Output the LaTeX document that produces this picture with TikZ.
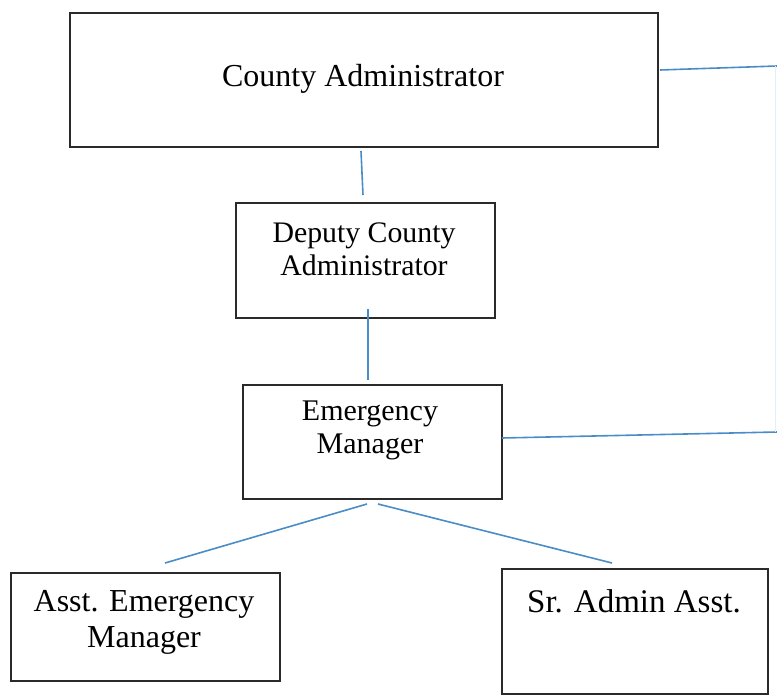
\documentclass[tikz,border=0pt]{standalone}
\usepackage{fontspec}
\setmainfont{Liberation Serif}
\definecolor{conn}{HTML}{4A8CC7}
\definecolor{boxline}{HTML}{2A2A2A}
\begin{document}
\begin{tikzpicture}[x=1pt,y=-1pt,
  orgbox/.style={draw=boxline,line width=1.6pt,rectangle,inner sep=0pt,anchor=north west},
  lbl/.style={align=center,inner sep=0pt,text=black},
  link/.style={draw=conn,line width=1.6pt}]
\useasboundingbox (0,0) rectangle (777,696);
% boxes
\node[orgbox,minimum width=588pt,minimum height=134pt] (ca) at (69,12) {};
\node[orgbox,minimum width=259pt,minimum height=115pt] (dca) at (235,202) {};
\node[orgbox,minimum width=259pt,minimum height=114pt] (em) at (242,384) {};
\node[orgbox,minimum width=269pt,minimum height=108pt] (aem) at (10,572) {};
\node[orgbox,minimum width=266pt,minimum height=125pt] (sr) at (501,568) {};
% texts
\node[lbl,font=\fontsize{32}{36}\selectfont] (tca) at (363,79) {County Administrator};
\node[lbl,font=\fontsize{29.8}{33}\selectfont] (tdca) at (364,249) {Deputy County\\Administrator};
\node[lbl,font=\fontsize{30}{33}\selectfont] (tem) at (370,430) {Emergency\\Manager};
\node[lbl,font=\fontsize{32}{36}\selectfont] (taem) at (144,622) {Asst. Emergency\\Manager};
\node[lbl,font=\fontsize{33}{36}\selectfont] (tsr) at (634,601) {Sr. Admin Asst.};
% connector end points
\coordinate (caB) at (361,151);
\coordinate (dcaT) at (363,195);
\coordinate (dcaB) at (368,309);
\coordinate (emT) at (368,380);
\coordinate (caE) at (660,70);
\coordinate (caR) at (777,66);
\coordinate (emE) at (502,438);
\coordinate (emR) at (777,432);
\coordinate (rTop) at (775,66);
\coordinate (rBot) at (775,432);
\coordinate (emB1) at (367,504);
\coordinate (emB2) at (378,504);
\coordinate (aemT) at (165,563);
\coordinate (srT) at (612,563);
% connectors
\draw[link] (caB) -- (dcaT);
\draw[link] (dcaB) -- (emT);
\draw[link] (caE) -- (caR);
\draw[link] (emE) -- (emR);
\draw[draw=conn!15,line width=1pt] (rTop) -- (rBot);
\draw[link] (emB1) -- (aemT);
\draw[link] (emB2) -- (srT);
\end{tikzpicture}
\end{document}
